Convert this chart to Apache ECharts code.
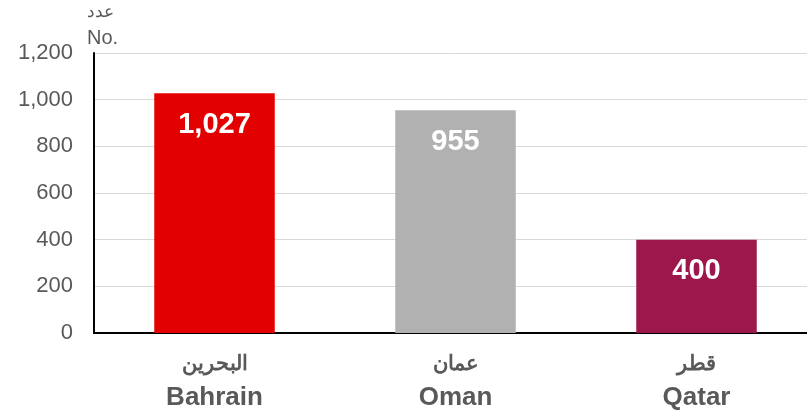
<!DOCTYPE html>
<html>
<head>
<meta charset="utf-8">
<script src="https://cdn.jsdelivr.net/npm/echarts@6/dist/echarts.min.js"></script>
<style>
  html, body { margin: 0; padding: 0; background: #fff; overflow: hidden; }
  #chart { width: 817px; height: 416px; }
</style>
</head>
<body>
<div id="chart"></div>
<script>
var categoriesAr = ['البحرين', 'عمان', 'قطر'];
var categoriesEn = ['Bahrain', 'Oman', 'Qatar'];
var values = [1027, 955, 400];
var barColors = ['#e30000', '#b1b1b1', '#9c174b'];
var yTicks = [0, 200, 400, 600, 800, 1000, 1200];

var chart = echarts.init(document.getElementById('chart'));
var font = 'Liberation Sans, Arial, sans-serif';

var option = {
  animation: false,
  // plot area runs a little past the right edge of the window, as in the original
  grid: { left: 94, top: 53, right: 0, bottom: 83, containLabel: false, outerBoundsMode: 'none' },
  xAxis: {
    type: 'category',
    data: categoriesEn.map(function (e, i) { return categoriesAr[i] + '\n' + e; }),
    axisLine: { lineStyle: { color: '#000', width: 2 } },
    axisTick: { show: false },
    axisLabel: {
      interval: 0,
      margin: 14,
      formatter: function (v) {
        var p = v.split('\n');
        return '{ar|' + p[0] + '}\n{en|' + p[1] + '}';
      },
      rich: {
        ar: { fontFamily: font, fontWeight: 'bold', fontSize: 21, color: '#595959', lineHeight: 34 },
        en: { fontFamily: font, fontWeight: 'bold', fontSize: 26, color: '#595959', lineHeight: 34 }
      }
    }
  },
  yAxis: {
    type: 'value',
    min: yTicks[0],
    max: yTicks[yTicks.length - 1],
    interval: 200,
    name: '{a|عدد}\n{b|No.}',
    nameLocation: 'end',
    nameGap: 2,
    nameTextStyle: {
      align: 'left',
      padding: [0, 0, 0, -7],
      rich: {
        a: { fontFamily: font, fontSize: 17, color: '#595959', lineHeight: 26 },
        b: { fontFamily: font, fontSize: 20, color: '#595959', lineHeight: 26 }
      }
    },
    axisLine: { show: true, lineStyle: { color: '#000', width: 2 } },
    axisTick: { show: false },
    splitLine: { lineStyle: { color: '#d9d9d9', width: 1 } },
    axisLabel: {
      fontFamily: font,
      fontSize: 22,
      color: '#595959',
      margin: 21,
      formatter: function (v) { return v.toLocaleString('en-US'); }
    }
  },
  series: [{
    type: 'bar',
    barWidth: '50%',
    data: values.map(function (v, i) { return { value: v, itemStyle: { color: barColors[i] } }; }),
    label: {
      show: true,
      position: 'insideTop',
      distance: 17,
      color: '#fff',
      fontFamily: font,
      fontWeight: 'bold',
      fontSize: 29,
      formatter: function (p) { return p.value.toLocaleString('en-US'); }
    }
  }]
};
chart.setOption(option);
</script>
</body>
</html>
